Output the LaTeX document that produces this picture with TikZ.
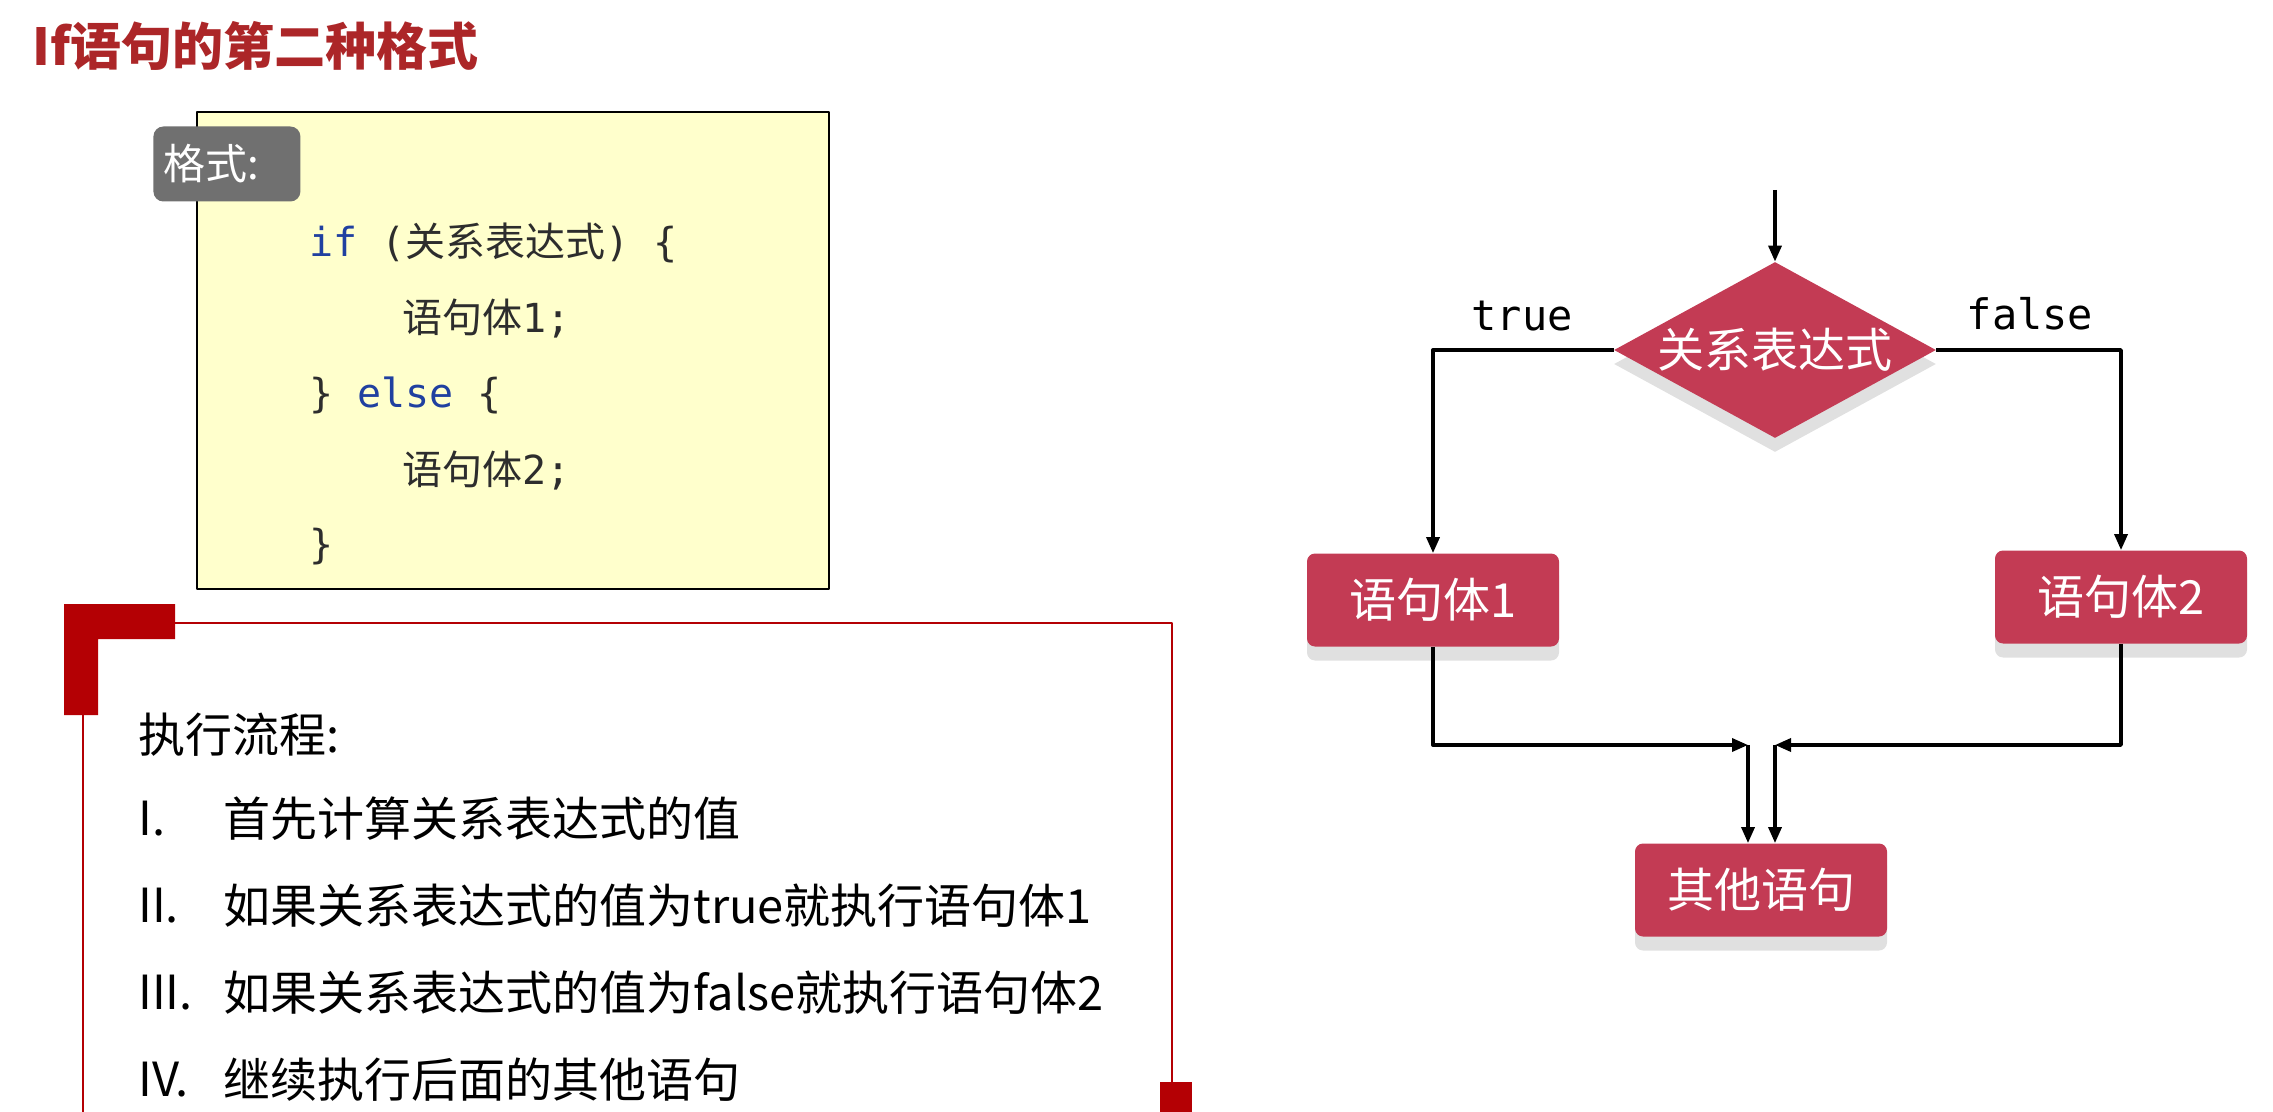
\documentclass[tikz,border=0pt]{standalone}
\usepackage{fontspec}
\setmainfont{Noto Sans CJK SC}
\newfontfamily\cjk{Noto Sans CJK SC}
\newfontfamily\mono{DejaVu Sans Mono}
\usetikzlibrary{shapes.geometric,shadows,arrows.meta}
\definecolor{titlered}{RGB}{172,38,40}
\definecolor{framered}{RGB}{180,0,4}
\definecolor{codeyellow}{RGB}{255,255,204}
\definecolor{labelgray}{RGB}{112,112,112}
\definecolor{kwblue}{RGB}{32,64,160}
\definecolor{codeblack}{RGB}{45,45,45}
\definecolor{flowred}{RGB}{195,59,84}
\newcommand{\kw}[1]{\textcolor{kwblue}{#1}}

\begin{document}
\begin{tikzpicture}[x=0.5pt, y=-0.5pt, line join=round, >={Triangle[length=8pt,width=6.5pt]},
  flow/.style={fill=flowred, text=white, inner sep=0, font=\fontsize{23.5}{28}\selectfont,
    drop shadow={shadow xshift=0pt, shadow yshift=-7pt, fill=black!12, opacity=1}},
  stmt/.style={flow, rectangle, rounded corners=4pt, minimum width=126pt, minimum height=46.5pt},
  cond/.style={flow, diamond, shape aspect=1.83, inner sep=-3pt, minimum width=161pt, minimum height=88pt},
  conn/.style={->, line width=1.7pt},
  code/.style={anchor=west, inner sep=0, text=codeblack, font=\mono\fontsize{20}{24}\selectfont},
  item/.style={anchor=west, inner sep=0, font=\fontsize{23.5}{28}\selectfont},
  lbl/.style={inner sep=0, font=\mono\fontsize{21}{25}\selectfont}]
 \useasboundingbox (0,0) rectangle (2273,1112);
 \clip (0,0) rectangle (2273,1112);
 % title
 \node[anchor=west, inner sep=0, text=titlered, font=\bfseries\fontsize{25.5}{30}\selectfont] (title) at (32,46) {If语句的第二种格式};
 % code box
 \draw[fill=codeyellow, line width=1pt] (197,112) rectangle (829,589);
 \node[anchor=west, fill=labelgray, rounded corners=5pt, text=white, inner xsep=5pt, inner ysep=0,
   text width=63.5pt, minimum height=37.5pt, font=\fontsize{21}{25}\selectfont] (fmt) at (153,164) {格式:};
 \node[code] (c1) at (309,243) {\kw{if} ({\cjk 关系表达式}) \{};
 \node[code] (c2) at (402,319) {{\cjk 语句体}1;};
 \node[code] (c3) at (309,395) {\} \kw{else} \{};
 \node[code] (c4) at (402,471) {{\cjk 语句体}2;};
 \node[code] (c5) at (309,547) {\}};
 % frame
 \draw[framered, line width=1.1pt] (83,1120) -- (83,623) -- (1172,623) -- (1172,1120);
 \fill[framered] (64,604) -- (175,604) -- (175,639) -- (98,639) -- (98,715) -- (64,715) -- cycle;
 \fill[framered] (1160,1082) rectangle (1192,1120);
 \node[item] (head) at (138,735) {执行流程:};
 \node[item] (n1) at (138,819) {I.};
 \node[item] (t1) at (223,819) {首先计算关系表达式的值};
 \node[item] (n2) at (138,906) {II.};
 \node[item] (t2) at (223,906) {如果关系表达式的值为true就执行语句体1};
 \node[item] (n3) at (138,993) {III.};
 \node[item] (t3) at (223,993) {如果关系表达式的值为false就执行语句体2};
 \node[item] (n4) at (138,1080) {IV.};
 \node[item] (t4) at (223,1080) {继续执行后面的其他语句};
 % flow chart
 \node[cond] (test) at (1775,350) {关系表达式};
 \node[stmt] (body1) at (1433,600) {语句体1};
 \node[stmt] (body2) at (2121,597) {语句体2};
 \node[stmt] (rest) at (1761,890) {其他语句};
 \node[lbl] (yes) at (1522,316) {true};
 \node[lbl] (no) at (2030,314) {false};
 \coordinate (entry) at (1775,190);
 \coordinate (joinL) at (1748,745);
 \coordinate (joinR) at (1775,745);
 \draw[conn] (entry) -- (test.north);
 \draw[conn] (test.west) -| (body1.north);
 \draw[conn] (test.east) -| (body2.north);
 \draw[conn] (body1.south) |- (joinL);
 \draw[conn] (body2.south) |- (joinR);
 \draw[conn] (joinL) -- (joinL |- rest.north);
 \draw[conn] (joinR) -- (joinR |- rest.north);
\end{tikzpicture}
\end{document}
